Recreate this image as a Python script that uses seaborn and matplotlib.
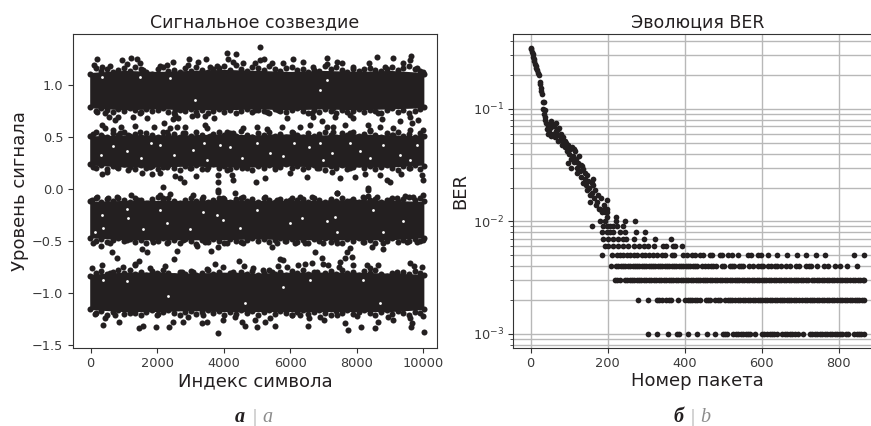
import pandas as pd
import seaborn as sns
import matplotlib.pyplot as plt

# Left panel: the four clouds are saturated black, so the solid middle is kept as
# an envelope read off the picture and only the visible dots are listed.
core_x = [-30, 1000, 2000, 3000, 4000, 5000, 6000, 7000, 8000, 9000, 10020]
core1_top = [1.12, 1.14, 1.13, 1.14, 1.15, 1.14, 1.13, 1.14, 1.13, 1.14, 1.12]
core1_bot = [0.78, 0.76, 0.77, 0.76, 0.76, 0.77, 0.76, 0.77, 0.76, 0.77, 0.78]
core2_top = [0.51, 0.52, 0.52, 0.52, 0.53, 0.52, 0.53, 0.52, 0.53, 0.52, 0.51]
core2_bot = [0.23, 0.21, 0.21, 0.22, 0.21, 0.21, 0.22, 0.21, 0.21, 0.21, 0.23]
core3_top = [-0.12, -0.11, -0.11, -0.11, -0.10, -0.11, -0.11, -0.11, -0.10, -0.11, -0.12]
core3_bot = [-0.47, -0.49, -0.49, -0.49, -0.49, -0.48, -0.49, -0.49, -0.49, -0.49, -0.47]
core4_top = [-0.82, -0.80, -0.80, -0.81, -0.80, -0.81, -0.80, -0.80, -0.80, -0.81, -0.82]
core4_bot = [-1.16, -1.18, -1.18, -1.17, -1.18, -1.18, -1.18, -1.18, -1.18, -1.18, -1.16]

# dots that make the ragged edge of each cloud, all read at the same symbol indexes
edge_x = [-20, 150, 320, 500, 660, 830, 1000, 1170, 1340, 1500, 1670, 1840, 2010, 2180, 2340, 2510, 2680, 2850, 3020,
          3180, 3350, 3520, 3690, 3860, 4020, 4190, 4360, 4530, 4700, 4860, 5030, 5200, 5370, 5540, 5700, 5870, 6040,
          6210, 6380, 6540, 6710, 6880, 7050, 7220, 7380, 7550, 7720, 7890, 8060, 8220, 8390, 8560, 8730, 8900, 9060,
          9230, 9400, 9570, 9740, 9900, 10030]
edge1_top = [1.11, 1.16, 1.13, 1.15, 1.12, 1.14, 1.16, 1.13, 1.17, 1.15, 1.12, 1.11, 1.15, 1.17, 1.13, 1.14, 1.12, 1.16,
             1.13, 1.17, 1.14, 1.12, 1.15, 1.16, 1.18, 1.14, 1.19, 1.15, 1.13, 1.17, 1.16, 1.14, 1.18, 1.15, 1.13, 1.16,
             1.17, 1.14, 1.15, 1.12, 1.14, 1.13, 1.18, 1.15, 1.17, 1.14, 1.12, 1.15, 1.13, 1.15, 1.16, 1.14, 1.13, 1.15,
             1.17, 1.14, 1.16, 1.18, 1.15, 1.13, 1.11]
edge1_bot = [0.79, 0.75, 0.78, 0.76, 0.74, 0.77, 0.75, 0.78, 0.76, 0.74, 0.77, 0.75, 0.76, 0.78, 0.74, 0.73, 0.76, 0.75,
             0.77, 0.74, 0.76, 0.73, 0.75, 0.77, 0.74, 0.76, 0.73, 0.75, 0.77, 0.74, 0.76, 0.75, 0.73, 0.77, 0.75, 0.74,
             0.76, 0.78, 0.75, 0.73, 0.76, 0.74, 0.77, 0.75, 0.73, 0.76, 0.74, 0.75, 0.77, 0.74, 0.76, 0.75, 0.73, 0.76,
             0.78, 0.74, 0.76, 0.73, 0.75, 0.77, 0.79]
edge2_top = [0.51, 0.55, 0.52, 0.50, 0.54, 0.52, 0.55, 0.51, 0.53, 0.50, 0.54, 0.52, 0.50, 0.55, 0.52, 0.53, 0.50, 0.54,
             0.51, 0.55, 0.52, 0.50, 0.53, 0.55, 0.52, 0.54, 0.51, 0.56, 0.52, 0.50, 0.54, 0.52, 0.55, 0.51, 0.53, 0.50,
             0.55, 0.52, 0.50, 0.54, 0.51, 0.53, 0.55, 0.52, 0.50, 0.54, 0.52, 0.55, 0.51, 0.53, 0.56, 0.52, 0.50, 0.54,
             0.52, 0.55, 0.51, 0.53, 0.50, 0.54, 0.51]
edge2_bot = [0.24, 0.20, 0.23, 0.19, 0.22, 0.20, 0.24, 0.21, 0.19, 0.23, 0.20, 0.22, 0.19, 0.21, 0.23, 0.20, 0.18, 0.22,
             0.20, 0.23, 0.19, 0.21, 0.24, 0.20, 0.22, 0.19, 0.21, 0.23, 0.20, 0.18, 0.22, 0.20, 0.23, 0.19, 0.21, 0.24,
             0.20, 0.22, 0.19, 0.21, 0.23, 0.20, 0.18, 0.22, 0.20, 0.23, 0.19, 0.21, 0.24, 0.20, 0.22, 0.19, 0.21, 0.23,
             0.20, 0.18, 0.22, 0.20, 0.23, 0.19, 0.22]
edge3_top = [-0.12, -0.09, -0.13, -0.10, -0.12, -0.09, -0.11, -0.13, -0.09, -0.11, -0.14, -0.10, -0.08, -0.11, -0.09,
             -0.12, -0.14, -0.11, -0.09, -0.12, -0.10, -0.13, -0.11, -0.09, -0.10, -0.13, -0.10, -0.09, -0.12, -0.10,
             -0.13, -0.09, -0.11, -0.13, -0.10, -0.12, -0.09, -0.11, -0.10, -0.13, -0.09, -0.11, -0.13, -0.10, -0.12,
             -0.09, -0.12, -0.10, -0.13, -0.09, -0.11, -0.10, -0.13, -0.11, -0.09, -0.12, -0.10, -0.08, -0.11, -0.09,
             -0.12]
edge3_bot = [-0.47, -0.50, -0.48, -0.51, -0.49, -0.47, -0.50, -0.48, -0.51, -0.49, -0.52, -0.48, -0.50, -0.47, -0.51,
             -0.49, -0.52, -0.48, -0.50, -0.53, -0.49, -0.51, -0.48, -0.50, -0.52, -0.48, -0.50, -0.51, -0.49, -0.47,
             -0.50, -0.48, -0.51, -0.49, -0.47, -0.50, -0.48, -0.51, -0.49, -0.52, -0.48, -0.50, -0.47, -0.51, -0.49,
             -0.52, -0.48, -0.50, -0.47, -0.51, -0.49, -0.52, -0.48, -0.50, -0.47, -0.51, -0.49, -0.50, -0.48, -0.50,
             -0.47]
edge4_top = [-0.84, -0.81, -0.79, -0.82, -0.80, -0.84, -0.81, -0.78, -0.82, -0.80, -0.83, -0.79, -0.82, -0.78, -0.81,
             -0.84, -0.80, -0.82, -0.79, -0.83, -0.81, -0.78, -0.82, -0.80, -0.84, -0.81, -0.83, -0.80, -0.82, -0.79,
             -0.83, -0.81, -0.78, -0.82, -0.80, -0.83, -0.79, -0.81, -0.78, -0.82, -0.80, -0.84, -0.81, -0.79, -0.82,
             -0.78, -0.81, -0.80, -0.83, -0.79, -0.81, -0.78, -0.82, -0.84, -0.81, -0.83, -0.80, -0.82, -0.79, -0.81,
             -0.83]
edge4_bot = [-1.15, -1.19, -1.17, -1.21, -1.18, -1.16, -1.20, -1.17, -1.19, -1.21, -1.18, -1.16, -1.20, -1.18, -1.16,
             -1.19, -1.21, -1.18, -1.17, -1.20, -1.18, -1.16, -1.19, -1.17, -1.21, -1.18, -1.20, -1.16, -1.19, -1.17,
             -1.21, -1.18, -1.16, -1.20, -1.17, -1.19, -1.21, -1.18, -1.16, -1.20, -1.18, -1.16, -1.19, -1.21, -1.17,
             -1.19, -1.16, -1.20, -1.18, -1.16, -1.19, -1.21, -1.18, -1.16, -1.20, -1.17, -1.19, -1.21, -1.18, -1.19,
             -1.15]

band1_x = [200, 932, 1213, 1384, 100, 581, 1484, 2467, 2969, 3460, 3239, 4112, 4373, 4142, 4593, 2086, 2939, 3791,
           1584, 331, 1083, 2287, 3590, 4292, 5092, 5092, 5212, 4941, 5443, 5794, 6095, 6396, 7118, 7098, 7399, 7549,
           8382, 8622, 9104, 9626, 9605, 9405, 6697, 7900, 8853, 10006, 9806,
           200, 431, 561, 832, 732, 1284, 1705, 331, 431, 682, 912, 1334, 1484, 1916, 2206, 2537, 2487, 2638, 3039,
           3189, 3440, 3711, 3440, 3490, 2587, 2387, 2287, 2838, 1484, 2537, 4941, 5292, 5644, 5894, 6647, 6697, 6948,
           7299, 7349, 7800, 7900, 8051, 8652, 8753, 9305, 9605, 9656, 9856, 9986, 4992, 5292, 5744, 6296, 6596, 7098,
           7299, 7650, 8352, 8703, 9104, 9605]
band1_y = [1.25, 1.24, 1.263, 1.25, 1.19, 1.18, 1.21, 1.225, 1.247, 1.247, 1.218, 1.305, 1.298, 1.247, 1.215, 1.183,
           1.19, 1.183, 1.144, 1.17, 1.2, 1.19, 1.176, 1.225, 1.362, 1.24, 1.247, 1.21, 1.215, 1.21, 1.247, 1.225,
           1.257, 1.2, 1.225, 1.215, 1.21, 1.266, 1.257, 1.282, 1.24, 1.21, 1.176, 1.17, 1.176, 1.128, 1.16,
           0.744, 0.728, 0.69, 0.69, 0.664, 0.69, 0.68, 0.616, 0.583, 0.567, 0.6, 0.606, 0.551, 0.6, 0.638, 0.712, 0.67,
           0.68, 0.702, 0.712, 0.702, 0.68, 0.616, 0.583, 0.6, 0.583, 0.551, 0.6, 0.728, 0.76, 0.76, 0.744, 0.76, 0.68,
           0.728, 0.69, 0.657, 0.776, 0.696, 0.712, 0.68, 0.808, 0.728, 0.67, 0.657, 0.696, 0.632, 0.664, 0.567, 0.6,
           0.574, 0.6, 0.593, 0.616, 0.6, 0.6, 0.616, 0.616, 0.6, 0.583, 0.567]

band2_x = [80, 381, 882, 1133, 1484, 2187, 2788, 3189, 3590, 4092, 4593, 4292, 3891, 4841, 5443, 6095, 6847, 7800,
           8402, 9104, 9906, 7299, 331, 80, 481, 1133, 1534, 1835, 2086, 2537, 2688, 2808, 3159, 3841, 3841, 4242,
           4292, 4543, 2989, 3490, 782, 2287, 1785, 4092, 2166, 3841, 5242, 4972, 5994, 6496, 7248, 7499, 7950, 8251,
           8703, 8904, 9003, 9325, 9956, 10006, 8352, 7399, 5543, 6797, 7800, 9605]
band2_y = [0.529, 0.503, 0.535, 0.519, 0.503, 0.503, 0.535, 0.503, 0.51, 0.551, 0.583, 0.535, 0.503, 0.503, 0.503,
           0.535, 0.503, 0.535, 0.567, 0.519, 0.503, 0.551, 0.144, 0.215, 0.167, 0.183, 0.151, 0.144, 0.151, 0.128,
           0.103, 0.071, 0.128, 0.135, 0.071, 0.135, 0.087, 0.2, 0.2, 0.189, 0.215, 0.208, 0.208, 0.183, 0.023, -0.009,
           0.103, 0.064, 0.151, 0.112, 0.167, 0.103, 0.119, 0.144, 0.135, 0.087, 0.071, 0.144, 0.135, 0.087, 0.007,
           -0.042, 0.215, 0.199, 0.199, 0.199]

band3_x = [30, 180, 531, 782, 1213, 1434, 1735, 2086, 2387, 2187, 2838, 3089, 3390, 3841, 4343, 3992, 4593, 7399,
           8352, 8352, 8602, 6296, 6646, 5242, 5593, 5994, 7198, 7800, 9003, 9455, 9705, 9986, 9204, 8201,
           80, 301, 631, 782, 581, 1534, 1705, 1464, 1334, 2608, 2507, 2307, 3189, 3620, 3841, 3440, 4092, 4593, 1083,
           1885, 2788, 4473, 4613, 3741, 5443, 5593, 5844, 6145, 6446, 6747, 6998, 7800, 7700, 7850, 8452, 8783, 8803,
           9505, 9806, 10006, 7399, 8201]
band3_y = [-0.106, -0.074, -0.09, -0.08, -0.058, -0.106, -0.131, -0.058, -0.048, -0.09, -0.122, -0.058, -0.074,
           -0.026, -0.035, -0.09, -0.074, -0.042, -0.01, -0.067, -0.074, -0.08, -0.074, -0.08, -0.106, -0.106, -0.122,
           -0.112, -0.106, -0.067, -0.074, -0.058, -0.09, -0.074,
           -0.523, -0.548, -0.603, -0.66, -0.523, -0.58, -0.609, -0.689, -0.721, -0.596, -0.676, -0.523, -0.548, -0.593,
           -0.561, -0.506, -0.523, -0.523, -0.49, -0.506, -0.49, -0.689, -0.74, -0.721, -0.561, -0.516, -0.497, -0.523,
           -0.523, -0.603, -0.516, -0.57, -0.603, -0.651, -0.561, -0.58, -0.523, -0.506, -0.506, -0.49, -0.523, -0.506]

band4_x = [30, 331, 832, 982, 1334, 1785, 2237, 2738, 3089, 3490, 3992, 4292, 4644, 581, 1985, 4891, 5192, 5443, 5694,
           5794, 5644, 5894, 6246, 6446, 6646, 6948, 6998, 7148, 7499, 7650, 7479, 7900, 8301, 8652, 8402, 9605, 9736,
           9956, 9204, 6797, 130, 431, 361, 862, 732, 1464, 1584, 1966, 2367, 2467, 2788, 2939, 3340, 3490, 3841, 3972,
           4343, 4644, 4543, 1985, 3390, 1183, 4941, 5012, 5242, 5393, 5543, 6045, 6296, 6576, 6546, 6897, 7018, 7650,
           7750, 8131, 8552, 8652, 8953, 9104, 9605, 9656, 9626, 10006, 10026, 8001, 7399]
band4_y = [-0.763, -0.731, -0.779, -0.747, -0.731, -0.763, -0.74, -0.795, -0.795, -0.772, -0.747, -0.795, -0.827,
           -0.811, -0.811, -0.763, -0.779, -0.795, -0.676, -0.683, -0.74, -0.747, -0.731, -0.721, -0.715, -0.667, -0.721,
           -0.731, -0.7, -0.667, -0.747, -0.731, -0.731, -0.731, -0.763, -0.715, -0.74, -0.753, -0.795, -0.795,
           -1.202, -1.244, -1.308, -1.282, -1.212, -1.34, -1.317, -1.324, -1.324, -1.276, -1.276, -1.228, -1.292, -1.276,
           -1.388, -1.26, -1.228, -1.314, -1.276, -1.212, -1.212, -1.196, -1.26, -1.324, -1.282, -1.244, -1.314, -1.212,
           -1.212, -1.244, -1.314, -1.228, -1.26, -1.292, -1.356, -1.33, -1.34, -1.282, -1.234, -1.26, -1.244, -1.292,
           -1.324, -1.221, -1.378, -1.221, -1.212]

# white pin holes left between dots inside the clouds
gap_x = [331, 1484, 2387, 3139, 6900, 7120,
         1083, 2086, 3089, 682, 3490, 3891, 4543, 1500, 2500, 4200, 5400, 5794, 6100, 6580, 7250, 7800, 8400, 8800, 9300,
         9600, 9800, 5000, 1800, 300, 3400, 7000, 8100, 6900,
         7349, 6346, 4992, 7098, 8502, 9405, 5994, 8803, 7399, 331, 381, 1133, 2086, 2989, 3992, 4493, 3791, 130, 1584,
         1083, 2287, 3390,
         381, 1083, 2337, 4644, 6596, 5794, 8201, 8703]
gap_y = [1.08, 1.08, 1.07, 0.856, 0.95, 1.05,
         0.36, 0.42, 0.375, 0.41, 0.283, 0.42, 0.3, 0.3, 0.33, 0.4, 0.35, 0.32, 0.44, 0.4, 0.345, 0.44, 0.3, 0.42, 0.33,
         0.28, 0.42, 0.44, 0.44, 0.33, 0.44, 0.28, 0.36, 0.44,
         -0.27, -0.28, -0.2, -0.31, -0.2, -0.31, -0.33, -0.41, -0.41, -0.25, -0.38, -0.28, -0.2, -0.39, -0.3, -0.38,
         -0.25, -0.41, -0.39, -0.19, -0.33, -0.22,
         -0.88, -0.89, -1.03, -1.1, -0.88, -0.94, -0.88, -1.1]

# Right panel: steep part of the curve
curve_x = [0, 2, 4, 5, 7, 8, 10, 12, 13, 15, 17, 19, 21, 24, 25, 26, 27, 29, 32, 34, 33, 36, 35, 37, 38,
           40, 42, 45, 47, 50, 52, 55, 57, 60, 63, 65, 68, 70, 72, 75, 78, 80, 83, 85, 88, 90, 44, 53, 58, 66, 74, 82,
           92, 95, 97, 100, 102, 105, 107, 110, 112, 115, 118, 120, 123, 125, 128, 96, 104, 113, 121,
           130, 132, 135, 137, 140, 142, 145, 147, 150, 152, 155, 158, 160, 163, 165, 168, 170, 175, 178, 182, 185,
           190, 193, 197, 199, 134, 143, 153, 162, 172, 180, 188, 199]
curve_y = [0.35, 0.34, 0.32, 0.31, 0.29, 0.28, 0.265, 0.25, 0.24, 0.23, 0.22, 0.21, 0.2, 0.175, 0.165, 0.155, 0.145,
           0.135, 0.115, 0.115, 0.1, 0.098, 0.09, 0.085, 0.08,
           0.075, 0.066, 0.072, 0.062, 0.068, 0.058, 0.074, 0.06, 0.07, 0.056, 0.064, 0.06, 0.066, 0.052, 0.058, 0.054,
           0.06, 0.05, 0.056, 0.046, 0.052, 0.06, 0.078, 0.07, 0.075, 0.068, 0.048,
           0.05, 0.042, 0.048, 0.04, 0.044, 0.036, 0.046, 0.038, 0.034, 0.042, 0.036, 0.03, 0.033, 0.038, 0.028, 0.033,
           0.03, 0.044, 0.027,
           0.032, 0.025, 0.029, 0.022, 0.027, 0.024, 0.019, 0.026, 0.023, 0.02, 0.017, 0.022, 0.018, 0.021, 0.016, 0.019,
           0.014, 0.017, 0.013, 0.016, 0.012, 0.014, 0.012, 0.013, 0.0155, 0.031, 0.021, 0.015, 0.024, 0.015, 0.013,
           0.0125, 0.012]

# Right panel: quantised rows, BER level -> packet numbers
row_011 = [197, 221]
row_010 = [180, 193, 221, 245, 271]
row_009 = [158, 187, 197, 206, 215, 223, 241]
row_008 = [184, 197, 206, 215, 232, 245, 273, 297]
row_007 = [187, 202, 215, 228, 241, 247, 268, 293, 324, 364]
row_006 = [193, 202, 215, 228, 241, 254, 267, 280, 293, 304, 319, 344, 351, 369, 375, 392]
row_005 = [184, 210, 223, 232, 241, 249, 258, 267, 275, 288, 297, 306, 317, 327, 340, 349, 366, 373, 396, 405, 418,
           427, 440, 447, 466, 470, 492, 496, 513, 522, 539, 565, 571, 591, 597, 616, 639, 665, 691, 715, 741, 765,
           840, 866]
row_004 = [208, 222, 228, 234, 241, 246, 253, 258, 265, 270, 277, 282, 288, 295, 300, 306, 313, 318, 324, 331, 336,
           342, 349, 354, 360, 367, 372, 378, 385, 390, 396, 403, 408, 414, 421, 426, 432, 445, 452, 460, 468, 474,
           480, 497, 503, 517, 523, 529, 540, 546, 552, 568, 576, 590, 597, 603, 617, 625, 633, 640, 650, 664, 672,
           690, 696, 716, 722, 728, 742, 762, 772, 790, 804, 820, 847]
row_003 = [219, 225, 232, 245, 251, 258, 263, 267, 275, 281, 287, 294, 300, 307, 313, 319, 326, 332, 338, 345, 351,
           358, 364, 370, 377, 383, 389, 396, 402, 409, 415, 421, 428, 434, 440, 447, 453, 459, 466, 472, 479, 485,
           491, 498, 504, 510, 517, 523, 530, 536, 542, 549, 555, 561, 568, 574, 581, 587, 593, 600, 606, 612, 619,
           625, 632, 638, 644, 651, 657, 663, 670, 676, 683, 689, 695, 702, 708, 714, 721, 730, 736, 743, 749, 755,
           762, 768, 775, 782, 788, 795, 802, 808, 815, 822, 830, 836, 843, 850, 856, 862, 866]
row_002 = [279, 305, 327, 333, 340, 351, 358, 364, 382, 401, 408, 414, 420, 427, 433, 440, 455, 461, 466, 479, 486,
           492, 505, 512, 518, 522, 531, 538, 544, 551, 557, 563, 570, 576, 582, 589, 595, 601, 608, 614, 620, 627,
           633, 639, 646, 652, 658, 665, 671, 677, 684, 690, 696, 705, 711, 717, 724, 730, 736, 743, 749, 755, 762,
           768, 775, 781, 787, 794, 803, 809, 815, 822, 828, 834, 841, 847, 853, 860, 866]
row_001 = [305, 329, 357, 379, 386, 408, 431, 457, 479, 500, 505, 509, 526, 533, 539, 546, 552, 558, 565, 570, 583,
           600, 607, 613, 620, 626, 632, 639, 652, 659, 665, 672, 678, 685, 695, 708, 725, 731, 738, 744, 751, 757,
           764, 770, 777, 783, 790, 796, 803, 809, 818, 824, 840, 846, 852, 858, 864]
row_levels = [0.011, 0.010, 0.009, 0.008, 0.007, 0.006, 0.005, 0.004, 0.003, 0.002, 0.001]
row_lists = [row_011, row_010, row_009, row_008, row_007, row_006, row_005, row_004, row_003, row_002, row_001]

dot_color = '#231f20'
tick_color = '#3a3a3a'
W, H = 871, 426

plt.rcParams['font.family'] = 'DejaVu Sans'
plt.rcParams['text.color'] = dot_color
plt.rcParams['axes.labelcolor'] = dot_color
plt.rcParams['axes.edgecolor'] = '#333333'
plt.rcParams['xtick.labelcolor'] = tick_color
plt.rcParams['ytick.labelcolor'] = tick_color
plt.rcParams['xtick.color'] = '#333333'
plt.rcParams['ytick.color'] = '#333333'
plt.rcParams['mathtext.default'] = 'regular'

fig = plt.figure(figsize=[W / 100, H / 100], dpi=100)

#%% Constellation
ax0 = fig.add_axes([73 / W, (H - 347.5) / H, 364 / W, 313.5 / H])
for top, bot in [(core1_top, core1_bot), (core2_top, core2_bot), (core3_top, core3_bot), (core4_top, core4_bot)]:
    ax0.fill_between(core_x, bot, top, color=dot_color, lw=0)
df_sym = pd.DataFrame({'x': band1_x + band2_x + band3_x + band4_x,
                       'y': band1_y + band2_y + band3_y + band4_y})
sns.scatterplot(df_sym, x='x', y='y', color=dot_color, s=19, linewidth=0, ax=ax0)
for edge_y in [edge1_top, edge1_bot, edge2_top, edge2_bot, edge3_top, edge3_bot, edge4_top, edge4_bot]:
    sns.scatterplot(x=edge_x, y=edge_y, color=dot_color, s=19, linewidth=0, ax=ax0)
sns.scatterplot(x=gap_x, y=gap_y, color='white', s=4, linewidth=0, ax=ax0)
ax0.set_xlim(-532, 10415)
ax0.set_ylim(-1.525, 1.49)
ax0.set_xticks([0, 2000, 4000, 6000, 8000, 10000])
ax0.set_yticks([-1.5, -1.0, -0.5, 0.0, 0.5, 1.0])
ax0.tick_params(labelsize=9.3)
ax0.set_xlabel('Индекс символа', fontsize=13, labelpad=1.5)
ax0.set_ylabel('Уровень сигнала', fontsize=13, labelpad=2)
ax0.set_title('Сигнальное созвездие', fontsize=12.5, pad=5)

#%% BER, the axes run past the right edge of the picture
ax1 = fig.add_axes([513.3 / W, (H - 347.5) / H, (882 - 513.3) / W, 313.5 / H])
rows = pd.concat([pd.DataFrame({'x': xs, 'y': lev}) for xs, lev in zip(row_lists, row_levels)])
df_ber = pd.concat([pd.DataFrame({'x': curve_x, 'y': curve_y}), rows])
sns.scatterplot(df_ber, x='x', y='y', color=dot_color, s=17, linewidth=0, ax=ax1)
ax1.set_yscale('log')
ax1.set_xlim(-45, 912)
ax1.set_ylim(7.55e-4, 0.464)
ax1.set_xticks([0, 200, 400, 600, 800])
ax1.grid(True, which='both', color='#b8b8b8', lw=1)
ax1.set_axisbelow(True)
ax1.tick_params(labelsize=9.3)
ax1.set_xlabel('Номер пакета', fontsize=13, labelpad=1.5)
ax1.set_ylabel('BER', fontsize=13, labelpad=2.5)
ax1.set_title('Эволюция BER', fontsize=12.5, pad=5)

#%% Captions
serif = 'Liberation Serif'
for cx, lab, lat in [(240, 'а', 'a'), (678, 'б', 'b')]:
    fig.text(cx / W, 1 - 417 / H, lab, family=serif, style='italic', weight='bold', fontsize=14.5,
             ha='center', va='center', color=dot_color)
    fig.text((cx + 14.5) / W, 1 - 417 / H, '|', family=serif, fontsize=14, ha='center', va='center', color='#aaaaaa')
    fig.text((cx + 27) / W, 1 - 417 / H, lat, family=serif, style='italic', fontsize=14.5,
             ha='center', va='center', color='#8c8c8c')

plt.savefig('out.png', dpi=100)
